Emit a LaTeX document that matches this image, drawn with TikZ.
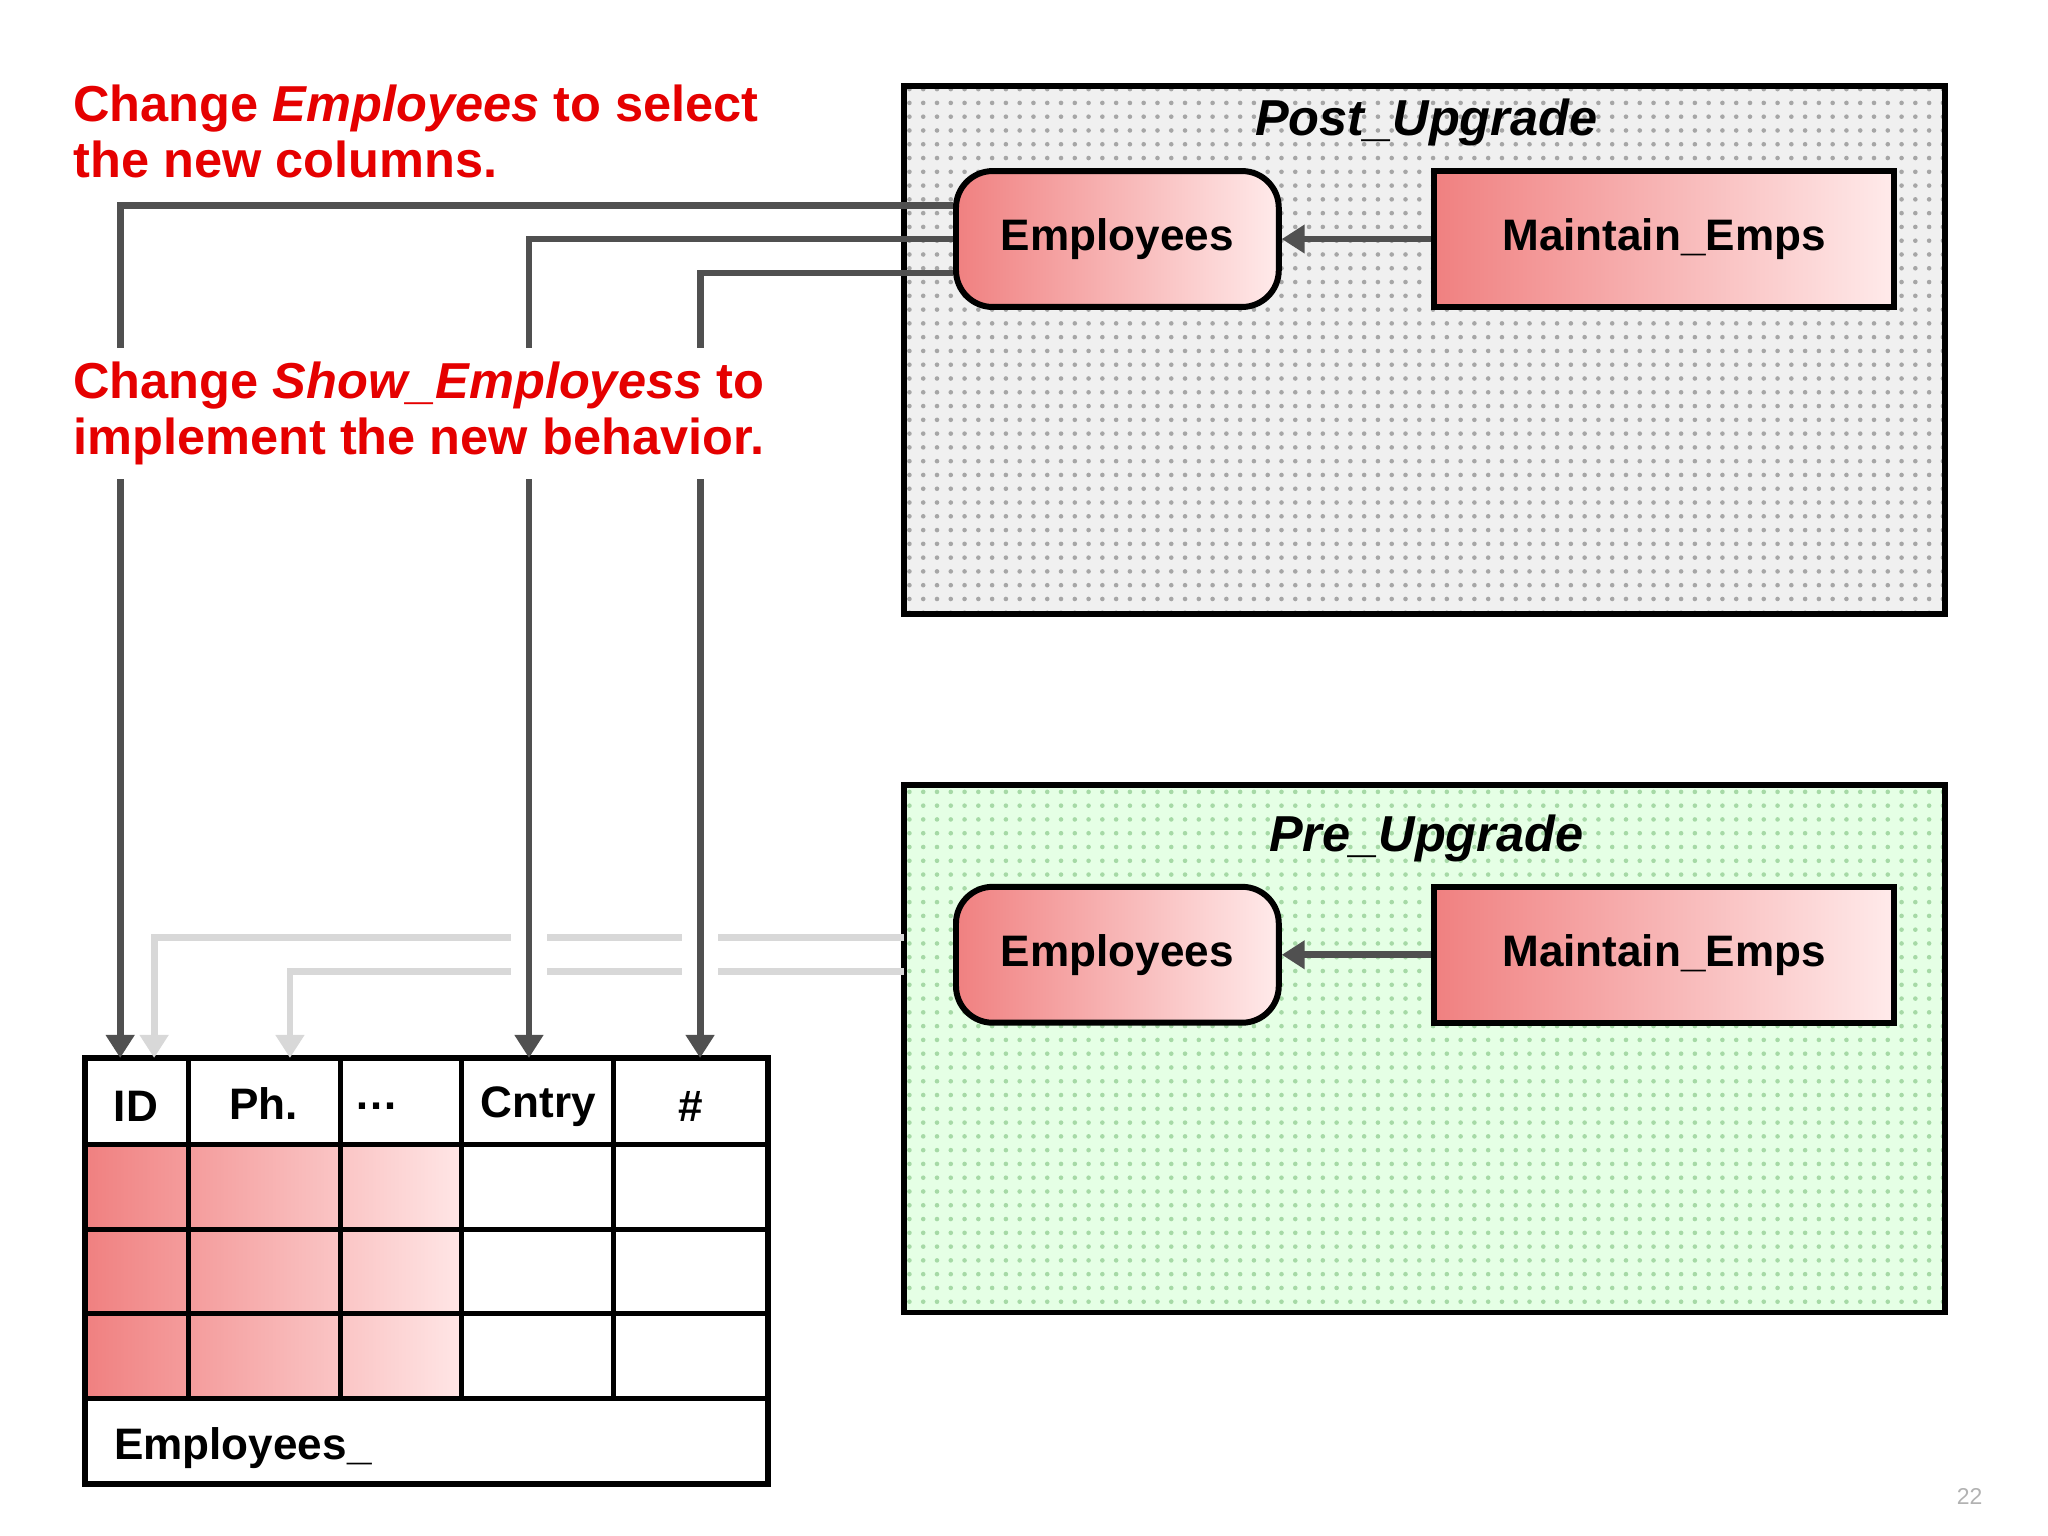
\documentclass[tikz,border=0pt]{standalone}
\usepackage{fontspec}
\setmainfont{Liberation Sans}
\usetikzlibrary{patterns,arrows.meta}
\definecolor{dk}{HTML}{505050}
\definecolor{lt}{HTML}{D8D8D8}
\definecolor{rd}{HTML}{F08080}
\begin{document}
\begin{tikzpicture}[x=0.01cm,y=-0.01cm,
  box/.style={draw=black,line width=1.3pt,left color=rd,right color=red!8},
  conn/.style={draw=dk,line width=1.5pt,-{Triangle[length=5pt,width=6pt]}},
  lconn/.style={draw=lt,line width=1.5pt,-{Triangle[length=5pt,width=6pt]}},
  lbl/.style={font=\bfseries\fontsize{9.6}{12}\selectfont},
  red/.style={text=red!90!black,font=\bfseries\fontsize{11}{12.2}\selectfont,align=left,anchor=north west,fill=white,inner sep=1pt}]
\useasboundingbox (0,0) rectangle (1568,1176);
% containers
\fill[gray!12] (692,66) rectangle (1489,470);
\fill[pattern=dots,pattern color=gray!70] (692,66) rectangle (1489,470);
\draw[line width=1.2pt] (692,66) rectangle (1489,470);
\fill[green!10] (692,601) rectangle (1489,1005);
\fill[pattern=dots,pattern color=green!40!gray!50] (692,601) rectangle (1489,1005);
\draw[line width=1.2pt] (692,601) rectangle (1489,1005);
\node[font=\bfseries\itshape\fontsize{11}{12}\selectfont] (post) at (1092,94) {Post\_Upgrade};
\node[font=\bfseries\itshape\fontsize{11}{12}\selectfont] (pre) at (1092,642) {Pre\_Upgrade};
% nodes
\node[box,rounded corners=8pt,minimum width=2.47cm,minimum height=1.04cm,lbl] (e1) at (855.5,183) {Employees};
\node[box,minimum width=3.52cm,minimum height=1.04cm,lbl] (m1) at (1274,183) {Maintain\_Emps};
\node[box,rounded corners=8pt,minimum width=2.47cm,minimum height=1.04cm,lbl] (e2) at (855.5,731) {Employees};
\node[box,minimum width=3.52cm,minimum height=1.04cm,lbl] (m2) at (1274,731) {Maintain\_Emps};
\draw[conn] (m1.west) -- (e1.east);
\draw[conn] (m2.west) -- (e2.east);
% table
\shade[left color=rd,right color=red!10] (65,876) rectangle (353,1071);
\draw[line width=1.3pt] (65,810) rectangle (588,1136);
\foreach \x in {144,261,353,470} \draw[line width=1.1pt] (\x,810) -- (\x,1071);
\foreach \y in {876,941,1006,1071} \draw[line width=1.1pt] (65,\y) -- (588,\y);
\coordinate (cID) at (92,810); \coordinate (cPh) at (118,810);
\coordinate (cX) at (222,810); \coordinate (cC) at (405,810); \coordinate (cH) at (536,810);
\coordinate (s1) at (692,718); \coordinate (s2) at (692,744);
\node[lbl] (tID) at (104,847) {ID};
\node[lbl] (tPh) at (202,845) {Ph.};
\node[lbl] (tDots) at (288,847) {\ldots};
\node[lbl] (tC) at (412,847) {Cntry};
\node[lbl] (tH) at (529,847) {\#};
\node[lbl,anchor=west] (tEmp) at (75,1109) {Employees\_};
% light connectors
\draw[lconn] (s1) -- (118,718) -- (cPh);
\draw[lconn] (s2) -- (222,744) -- (cX);
\draw[white,line width=0.28cm] (405,705) -- (405,757) (536,705) -- (536,757);
% dark connectors
\draw[conn] (e1.west|-0,157) -- (92,157) -- (cID);
\draw[conn] (e1.west|-0,183) -- (405,183) -- (cC);
\draw[conn] (e1.west|-0,209) -- (536,209) -- (cH);
% texts
\node[red] (t1) at (52,61) {Change \textit{Employees} to select\\the new columns.};
\node[red,inner ysep=3pt] (t2) at (52,266) {Change \textit{Show\_Employess} to\\implement the new behavior.};
\node[text=gray!60,font=\fontsize{5}{6}\selectfont] (pg) at (1508,1146) {22};
\end{tikzpicture}
\end{document}
